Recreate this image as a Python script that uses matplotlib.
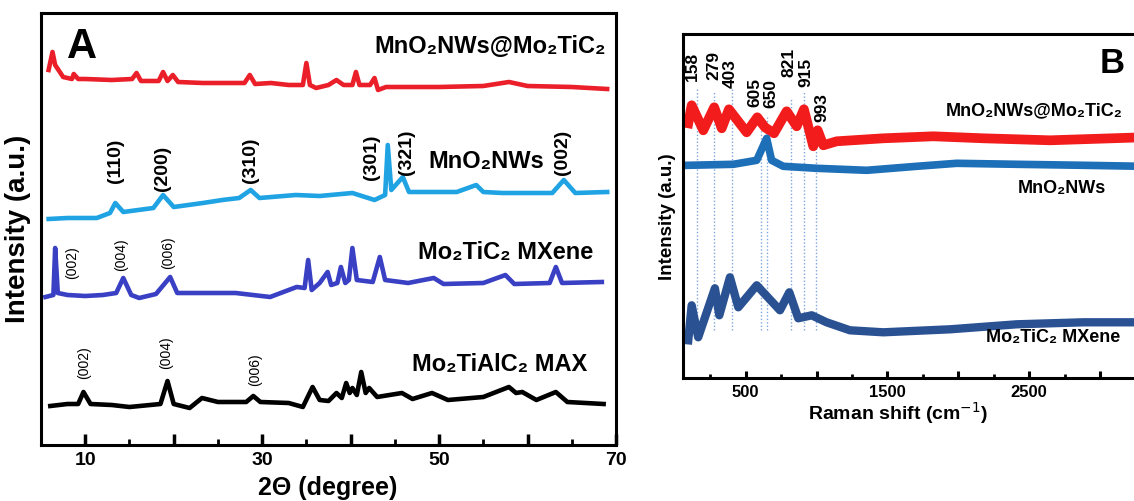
import matplotlib
matplotlib.use('Agg')
import matplotlib.pyplot as plt

plt.rcParams['font.family'] = ['Liberation Sans', 'DejaVu Sans']

# ---- XRD (panel A): 2theta (degree) and intensity (a.u.) ----
tt_comp = [5.86, 6.3, 6.6, 7.5, 8.5, 8.7, 9.2, 10, 13, 15.3, 15.8, 16.3, 18.3, 18.8, 19.3, 19.9, 20.5,
           23.3, 24.5, 28.0, 28.6, 29.2, 31, 33, 34.6, 35.0, 35.4, 36.1, 37.5, 38.4, 39.2, 40.2, 40.6,
           41.0, 42.2, 42.7, 43.1, 44, 50, 55, 57.9, 60, 65, 69]
i_comp = [375, 393, 380, 368, 366, 371, 366, 366, 365, 366, 372, 364, 364, 373, 364, 370, 363,
          362, 362, 362, 370, 361, 362, 360, 360, 382, 360, 357, 360, 365, 360, 360, 373,
          360, 360, 367, 355, 358, 358, 359, 363, 359, 358, 356]

tt_mno2 = [5.86, 8, 11.3, 12.8, 13.4, 14.3, 17.7, 18.8, 20.0, 23.3, 25.5, 27.4, 28.7, 29.7, 33.8,
           36.5, 40.2, 42.7, 43.9, 44.2, 44.6, 45.9, 46.6, 52, 54.2, 55, 57.2, 62.8, 64.1, 65.4, 69]
i_mno2 = [226, 227, 227, 232, 242, 233, 237, 250, 238, 242, 245, 247, 255, 247, 250,
          249, 252, 245, 250, 300, 255, 268, 253, 253, 260, 253, 252, 252, 265, 252, 253]

tt_mxene = [5.5, 6.4, 6.6, 6.9, 8, 10, 12, 13.5, 14.3, 15.2, 16.1, 18, 19.6, 20.4, 22, 27, 30.9,
            33.9, 34.8, 35.2, 35.6, 36.5, 37.4, 37.8, 38.5, 38.9, 39.4, 39.8, 40.2, 40.7, 42.5,
            43.3, 43.9, 46.5, 49.4, 50.5, 55, 57.5, 58.5, 62.5, 63.2, 63.9, 68.4]
i_mxene = [148, 150, 197, 152, 150, 149, 150, 152, 167, 150, 147, 151, 168, 152, 152, 152, 148,
           158, 157, 185, 155, 162, 173, 160, 162, 178, 162, 165, 197, 165, 163,
           188, 165, 162, 167, 161, 162, 170, 161, 162, 178, 162, 163]

tt_max = [6.05, 8, 9.2, 9.8, 10.6, 13, 15, 18.5, 19.3, 20.0, 21.8, 23.2, 25, 28.2, 29, 29.8, 33,
          34.6, 35.7, 36.5, 37.5, 38.4, 39.0, 39.5, 39.9, 40.2, 40.7, 41.2, 41.7, 42.1, 43, 45.8,
          47, 49.2, 51, 55, 57.9, 58.7, 59.4, 61, 63.2, 64.5, 68.6]
i_max = [39, 41, 41, 53, 41, 40, 38, 41, 64, 41, 37, 47, 43, 43, 49, 43, 42,
         38, 58, 45, 44, 52, 47, 62, 52, 57, 50, 73, 52, 57, 48, 52,
         46, 52, 45, 48, 58, 52, 53, 45, 53, 43, 41]

hkl_mno2 = ['(110)', '(200)', '(310)', '(301)', '(321)', '(002)']
hkl_mno2_pos = [(13.4, 284), (18.7, 277), (28.7, 285), (42.4, 288), (46.3, 293), (64.0, 293)]
hkl_mxene = ['(002)', '(004)', '(006)']
hkl_mxene_pos = [(8.5, 182), (14.1, 190), (19.4, 192)]
hkl_max = ['(002)', '(004)', '(006)']
hkl_max_pos = [(9.9, 82), (19.2, 92), (29.2, 75)]

# ---- Raman (panel B): shift (cm-1) and intensity (a.u.) ----
w_comp = [95, 119, 201, 278, 331, 382, 507, 582, 636, 700, 789, 860, 911, 977, 1008, 1048,
          1142, 1471, 1824, 2177, 2648, 3300]
r_comp = [255, 273, 248, 271, 250, 269, 246, 261, 251, 245, 267, 252, 269, 232, 248, 233,
          237, 240, 242, 240, 238, 241]

w_mno2 = [95, 413, 578, 648, 683, 765, 1001, 1354, 1707, 1989, 2413, 2883, 3300]
r_mno2 = [213, 214, 218, 240, 218, 212, 210, 208, 212, 215, 214, 213, 212]

w_mxene = [95, 119, 165, 283, 314, 389, 448, 578, 742, 808, 871, 966, 1071, 1236, 1471, 1942,
           2413, 2883, 3300]
r_mxene = [38, 73, 41, 90, 63, 101, 71, 93, 68, 86, 60, 63, 56, 48, 46, 49, 54, 56, 56]

raman_peaks = [158, 279, 403, 605, 650, 821, 915, 993]
peak_line_top = [291, 286, 290, 261, 261, 280, 286, 248]
peak_label_x = [121, 276, 389, 566, 678, 806, 925, 1038]
peak_label_y = [312, 313, 305, 286, 285, 316, 306, 271]

# ---- Figure ----
fig = plt.figure(figsize=(11.34, 5.01), dpi=100)
axA = fig.add_axes([0.03616, 0.11178, 0.50705, 0.86228])
axB = fig.add_axes([0.60256, 0.24491, 0.40494, 0.68723])

for ax in (axA, axB):
    for sp in ax.spines.values():
        sp.set_linewidth(2.2)
    ax.set_yticks([])

# Panel A
axA.plot(tt_comp, i_comp, color='#ea1f29', lw=3.3)
axA.plot(tt_mno2, i_mno2, color='#1fa3e3', lw=3.3)
axA.plot(tt_mxene, i_mxene, color='#3a40c4', lw=3.3)
axA.plot(tt_max, i_max, color='black', lw=3.3)
axA.set_xlim(5, 70)
axA.set_ylim(0, 432)
axA.set_xticks([10, 20, 30, 40, 50, 60, 70])
axA.set_xticklabels(['10', '', '30', '', '50', '', '70'])
axA.set_xticks([15, 25, 35, 45, 55, 65], minor=True)
axA.tick_params(axis='x', which='major', direction='in', length=8, width=2.5, pad=5,
                labelsize=14)
axA.tick_params(axis='x', which='minor', direction='in', length=4, width=2)
for lab in axA.get_xticklabels():
    lab.set_fontweight('bold')

axA.text(9.66, 398, 'A', fontsize=30, fontweight='bold', ha='center', va='center')
axA.text(68.85, 398, 'MnO₂NWs@Mo₂TiC₂', fontsize=17, fontweight='bold', ha='right', va='center')
axA.text(55.3, 283, 'MnO₂NWs', fontsize=17, fontweight='bold', ha='center', va='center')
axA.text(57.5, 192, 'Mo₂TiC₂ MXene', fontsize=17, fontweight='bold', ha='center', va='center')
axA.text(56.9, 80, 'Mo₂TiAlC₂ MAX', fontsize=17, fontweight='bold', ha='center', va='center')
for t, (x, y) in zip(hkl_mno2, hkl_mno2_pos):
    axA.text(x, y, t, fontsize=14, fontweight='bold', rotation=90, ha='center', va='center')
for t, (x, y) in zip(hkl_mxene, hkl_mxene_pos):
    axA.text(x, y, t, fontsize=10, rotation=90, ha='center', va='center')
for t, (x, y) in zip(hkl_max, hkl_max_pos):
    axA.text(x, y, t, fontsize=10, rotation=90, ha='center', va='center')

fig.text(0.0159, 0.543, 'Intensity (a.u.)', fontsize=20, fontweight='bold', rotation=90,
         ha='center', va='center')
fig.text(0.289, 0.026, '2Θ (degree)', fontsize=18, fontweight='bold', ha='center', va='center')

# Panel B
axB.vlines(raman_peaks, 48, peak_line_top, colors='#7fa5dc', lw=1, linestyles=(0, (1, 1.5)),
           zorder=1)
axB.plot(w_comp, r_comp, color='#f21c1c', lw=7, solid_joinstyle='round', zorder=2)
axB.plot(w_mno2, r_mno2, color='#1d6fb8', lw=5.5, solid_joinstyle='round', zorder=2)
axB.plot(w_mxene, r_mxene, color='#2a5192', lw=6, solid_joinstyle='round', zorder=2)
for p, x, y in zip(raman_peaks, peak_label_x, peak_label_y):
    axB.text(x, y, str(p), fontsize=12.5, fontweight='bold', rotation=90, ha='center', va='center')
axB.set_xlim(60, 3300)
axB.set_ylim(0, 344.3)
axB.set_xticks([500, 1000, 1500, 2000, 2500, 3000])
axB.set_xticklabels(['500', '', '1500', '', '2500', ''])
axB.set_xticks([250, 750, 1250, 1750, 2250, 2750, 3250], minor=True)
axB.tick_params(axis='x', which='major', direction='in', length=5, width=2.2, pad=5,
                labelsize=12)
axB.tick_params(axis='x', which='minor', direction='in', length=3, width=2)
for lab in axB.get_xticklabels():
    lab.set_fontweight('bold')

axB.text(3000, 315, 'B', fontsize=25, fontweight='bold', ha='left', va='center')
axB.text(2535, 268, 'MnO₂NWs@Mo₂TiC₂', fontsize=13, fontweight='bold', ha='center', va='center')
axB.text(2733, 190, 'MnO₂NWs', fontsize=13, fontweight='bold', ha='center', va='center')
axB.text(2669, 41, 'Mo₂TiC₂ MXene', fontsize=13, fontweight='bold', ha='center', va='center')

fig.text(0.589, 0.567, 'Intensity (a.u.)', fontsize=13.5, fontweight='bold', rotation=90,
         ha='center', va='center')
fig.text(0.792, 0.1756, 'Raman shift (cm$^{-1}$)', fontsize=14, fontweight='bold',
         ha='center', va='center')

plt.savefig('out.png', dpi=100)
